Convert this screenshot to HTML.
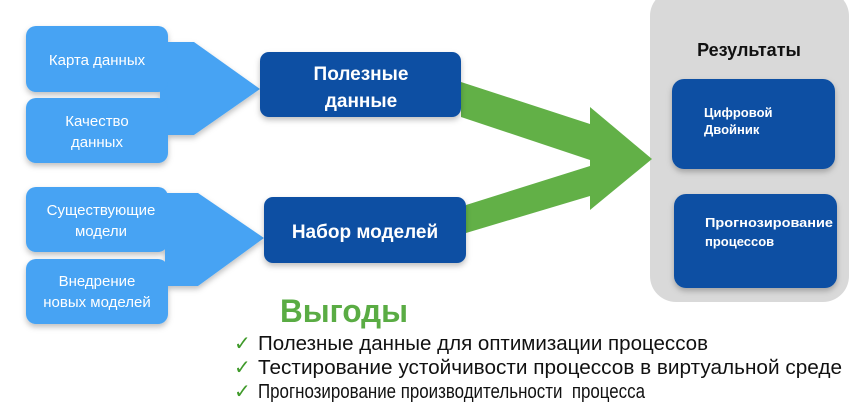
<!DOCTYPE html>
<html><head><meta charset="utf-8"><style>
body{margin:0;background:#fff;}
svg{display:block}
text{font-family:"Liberation Sans","DejaVu Sans",sans-serif;}
</style></head><body>
<svg width="854" height="406" viewBox="0 0 854 406" xmlns="http://www.w3.org/2000/svg">
<defs>
<filter id="sh" x="-20%" y="-20%" width="140%" height="150%"><feDropShadow dx="0" dy="3" stdDeviation="3" flood-color="#000" flood-opacity="0.25"/></filter>
</defs>
<rect width="854" height="406" fill="#fff"/>
<rect x="650" y="-10" width="199" height="312" rx="26" fill="#d9d9d9"/>
<text x="749" y="56" font-size="18" font-weight="bold" text-anchor="middle" fill="#111">Результаты</text>
<rect x="672" y="79" width="163" height="90" rx="12" fill="#0a4fa3" filter="url(#sh)"/>
<text x="704" y="117" font-size="13" font-weight="bold" fill="#fff">Цифровой</text>
<text x="704" y="134" font-size="13" font-weight="bold" fill="#fff">Двойник</text>
<rect x="674" y="194" width="163" height="94" rx="12" fill="#0a4fa3" filter="url(#sh)"/>
<text x="705" y="227" font-size="13" font-weight="bold" fill="#fff" textLength="128" lengthAdjust="spacingAndGlyphs">Прогнозирование</text>
<text x="705" y="246" font-size="13" font-weight="bold" fill="#fff">процессов</text>
<polygon points="461,82 590,124 590,160 461,117" fill="#62b047"/>
<polygon points="466,205 590,166 590,196 466,233" fill="#62b047"/>
<polygon points="590,107 652,159 590,210" fill="#62b047"/>
<g filter="url(#sh)">
<polygon points="160,42 194,42 260,89 194,135 160,135" fill="#46a3f3"/>
<rect x="26" y="26" width="142" height="66" rx="10" fill="#46a3f3"/>
<rect x="26" y="98" width="142" height="65" rx="10" fill="#46a3f3"/>
</g>
<text x="97" y="65" font-size="15" text-anchor="middle" fill="#fff">Карта данных</text>
<text x="97" y="126" font-size="15" text-anchor="middle" fill="#fff">Качество</text>
<text x="97" y="147" font-size="15" text-anchor="middle" fill="#fff">данных</text>
<g filter="url(#sh)">
<polygon points="165,193 198,193 264,238 198,286 165,286" fill="#46a3f3"/>
<rect x="26" y="187" width="142" height="65" rx="10" fill="#46a3f3"/>
<rect x="26" y="259" width="142" height="65" rx="10" fill="#46a3f3"/>
</g>
<text x="101" y="215" font-size="15" text-anchor="middle" fill="#fff">Существующие</text>
<text x="101" y="236" font-size="15" text-anchor="middle" fill="#fff">модели</text>
<text x="97" y="286" font-size="15" text-anchor="middle" fill="#fff">Внедрение</text>
<text x="97" y="307" font-size="15" text-anchor="middle" fill="#fff">новых моделей</text>
<rect x="260" y="52" width="201" height="65" rx="9" fill="#0a4fa3" filter="url(#sh)"/>
<text x="361" y="80" font-size="19" font-weight="bold" text-anchor="middle" fill="#fff">Полезные</text>
<text x="361" y="107" font-size="19" font-weight="bold" text-anchor="middle" fill="#fff">данные</text>
<rect x="264" y="197" width="202" height="66" rx="9" fill="#0a4fa3" filter="url(#sh)"/>
<text x="365" y="238" font-size="19" font-weight="bold" text-anchor="middle" fill="#fff">Набор моделей</text>
<text x="280" y="322" font-size="32" font-weight="bold" fill="#5aac44" textLength="128" lengthAdjust="spacingAndGlyphs">Выгоды</text>
<g font-size="20" fill="#111">
<text x="234" y="350" fill="#3f9a2a">✓</text>
<text x="258" y="350" textLength="450" lengthAdjust="spacingAndGlyphs">Полезные данные для оптимизации процессов</text>
<text x="234" y="374" fill="#3f9a2a">✓</text>
<text x="258" y="374" textLength="584" lengthAdjust="spacingAndGlyphs">Тестирование устойчивости процессов  в виртуальной среде</text>
<text x="234" y="398" fill="#3f9a2a">✓</text>
<text x="258" y="398" textLength="387" lengthAdjust="spacingAndGlyphs" xml:space="preserve">Прогнозирование производительности  процесса</text>
</g>
</svg>
</body></html>
